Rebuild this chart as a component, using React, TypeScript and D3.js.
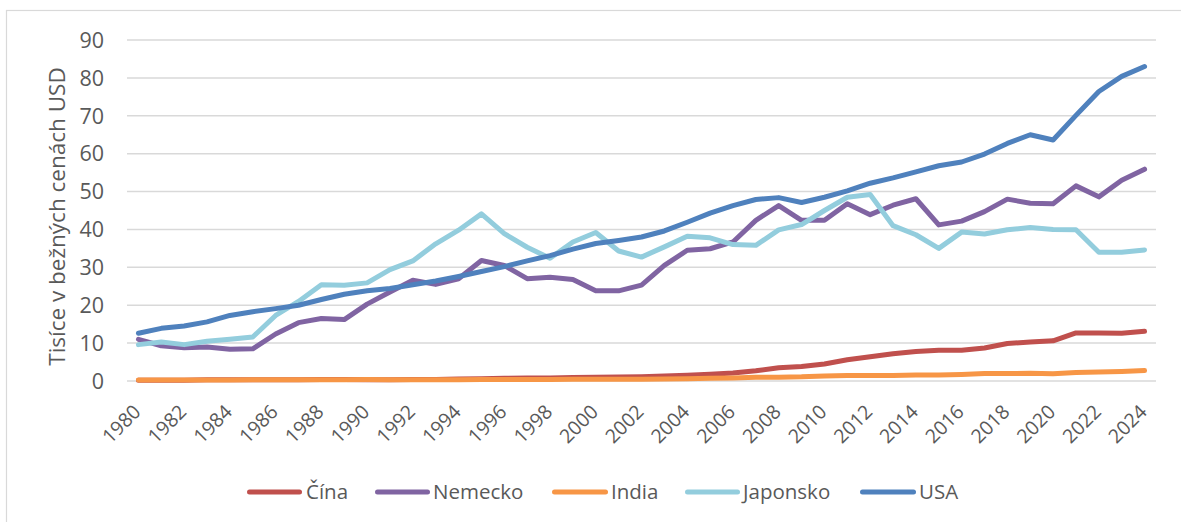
import React from "react";
import * as d3 from "d3";

const years: number[] = [
  1980, 1981, 1982, 1983, 1984, 1985, 1986, 1987, 1988, 1989,
  1990, 1991, 1992, 1993, 1994, 1995, 1996, 1997, 1998, 1999,
  2000, 2001, 2002, 2003, 2004, 2005, 2006, 2007, 2008, 2009,
  2010, 2011, 2012, 2013, 2014, 2015, 2016, 2017, 2018, 2019,
  2020, 2021, 2022, 2023, 2024,
];

const cina: number[] = [
  0.2, 0.2, 0.2, 0.3, 0.3, 0.3, 0.3, 0.3, 0.4, 0.4,
  0.3, 0.3, 0.4, 0.4, 0.5, 0.6, 0.7, 0.8, 0.8, 0.9,
  1.0, 1.05, 1.15, 1.3, 1.5, 1.75, 2.1, 2.7, 3.5, 3.8,
  4.5, 5.6, 6.4, 7.2, 7.8, 8.1, 8.1, 8.7, 9.9, 10.3,
  10.6, 12.7, 12.7, 12.6, 13.1,
];

const nemecko: number[] = [
  11.0, 9.3, 8.8, 9.0, 8.4, 8.5, 12.4, 15.4, 16.5, 16.2,
  20.3, 23.5, 26.6, 25.5, 27.0, 31.8, 30.5, 27.0, 27.4, 26.8,
  23.8, 23.8, 25.3, 30.5, 34.5, 34.9, 36.7, 42.4, 46.3, 42.4,
  42.4, 46.8, 43.9, 46.4, 48.1, 41.2, 42.2, 44.7, 48.0, 46.9,
  46.8, 51.5, 48.6, 53.0, 55.9,
];

const india: number[] = [
  0.27, 0.28, 0.28, 0.29, 0.29, 0.30, 0.31, 0.34, 0.35, 0.35,
  0.37, 0.30, 0.32, 0.30, 0.35, 0.38, 0.40, 0.41, 0.41, 0.44,
  0.44, 0.45, 0.47, 0.54, 0.62, 0.71, 0.80, 1.02, 0.99, 1.10,
  1.35, 1.45, 1.43, 1.44, 1.56, 1.59, 1.71, 1.96, 1.97, 2.05,
  1.91, 2.25, 2.37, 2.53, 2.75,
];

const japonsko: number[] = [
  9.6, 10.3, 9.6, 10.5, 11.0, 11.6, 17.3, 21.0, 25.4, 25.3,
  25.9, 29.4, 31.7, 36.2, 39.8, 44.1, 38.9, 35.3, 32.4, 36.7,
  39.2, 34.3, 32.7, 35.4, 38.2, 37.8, 36.0, 35.8, 39.9, 41.3,
  45.0, 48.5, 49.2, 41.0, 38.6, 35.0, 39.3, 38.8, 39.9, 40.5,
  40.0, 39.9, 34.0, 34.0, 34.6,
];

const usa: number[] = [
  12.6, 13.9, 14.5, 15.6, 17.3, 18.3, 19.1, 20.0, 21.5, 22.9,
  23.8, 24.4, 25.4, 26.4, 27.6, 28.9, 30.2, 31.7, 33.1, 34.8,
  36.3, 37.1, 38.0, 39.6, 41.9, 44.3, 46.3, 47.9, 48.4, 47.1,
  48.5, 50.2, 52.2, 53.6, 55.2, 56.8, 57.8, 59.9, 62.7, 65.0,
  63.6, 70.1, 76.4, 80.4, 83.0,
];

const seriesNames: string[] = ["Čína", "Nemecko", "India", "Japonsko", "USA"];
const seriesColors: string[] = ["#C0504D", "#8064A2", "#F79646", "#93CDDD", "#4F81BD"];
const seriesValues: number[][] = [cina, nemecko, india, japonsko, usa];

const yTicks: number[] = [0, 10, 20, 30, 40, 50, 60, 70, 80, 90];
const xTickYears: number[] = years.filter((y) => (y - 1980) % 2 === 0);

const W = 1181;
const H = 522;
const FONT = "'Open Sans', 'Noto Sans', sans-serif";
const TEXT = "#595959";

export default function App() {
  const left = 127;
  const right = 1156;
  const top = 40;
  const bottom = 381;

  const x = d3
    .scaleBand<number>()
    .domain(years)
    .range([left, right])
    .paddingInner(0)
    .paddingOuter(0);
  const cx = (yr: number) => (x(yr) as number) + x.bandwidth() / 2;
  const y = d3.scaleLinear().domain([0, 90]).range([bottom, top]);

  const line = d3
    .line<number>()
    .x((_, i) => cx(years[i]))
    .y((v) => y(v));

  const legendItems = [
    { l0: 247, l1: 302, tx: 306 },
    { l0: 375, l1: 430, tx: 433 },
    { l0: 552, l1: 608, tx: 611 },
    { l0: 685, l1: 740, tx: 743 },
    { l0: 860, l1: 916, tx: 919 },
  ];
  const legendY = 492;

  return (
    <svg width={W} height={H} style={{ position: "absolute", left: 0, top: 0 }}>
      <rect x={0} y={0} width={W} height={H} fill="#ffffff" />
      <rect x={6.5} y={10.5} width={1180} height={520} fill="none" stroke="#D9D9D9" strokeWidth={1.2} />
      {yTicks.map((t) => (
        <g key={t}>
          <line x1={left} x2={right} y1={y(t)} y2={y(t)} stroke="#D9D9D9" strokeWidth={1.5} />
          <text
            x={104}
            y={y(t)}
            dy="0.36em"
            textAnchor="end"
            fontFamily={FONT}
            fontSize={21.5}
            fill={TEXT}
          >
            {t}
          </text>
        </g>
      ))}
      <text
        transform={`translate(65, ${216.5}) rotate(-90)`}
        textAnchor="middle"
        fontFamily={FONT}
        fontSize={22.5}
        fill={TEXT}
      >
        Tisíce v bežných cenách USD
      </text>
      {xTickYears.map((yr) => (
        <text
          key={yr}
          transform={`translate(${cx(yr) + 3.5}, ${413}) rotate(-45)`}
          textAnchor="end"
          fontFamily={FONT}
          fontSize={19.5}
          fill={TEXT}
        >
          {yr}
        </text>
      ))}
      {seriesValues.map((vals, i) => (
        <path
          key={seriesNames[i]}
          d={line(vals) || ""}
          fill="none"
          stroke={seriesColors[i]}
          strokeWidth={5}
          strokeLinejoin="round"
          strokeLinecap="round"
        />
      ))}
      {seriesNames.map((name, i) => (
        <g key={name}>
          <line
            x1={legendItems[i].l0 + 2.5}
            x2={legendItems[i].l1 - 2.5}
            y1={legendY}
            y2={legendY}
            stroke={seriesColors[i]}
            strokeWidth={5}
            strokeLinecap="round"
          />
          <text
            x={legendItems[i].tx}
            y={legendY}
            dy="0.36em"
            fontFamily={FONT}
            fontSize={20.5}
            fill={TEXT}
          >
            {name}
          </text>
        </g>
      ))}
    </svg>
  );
}
